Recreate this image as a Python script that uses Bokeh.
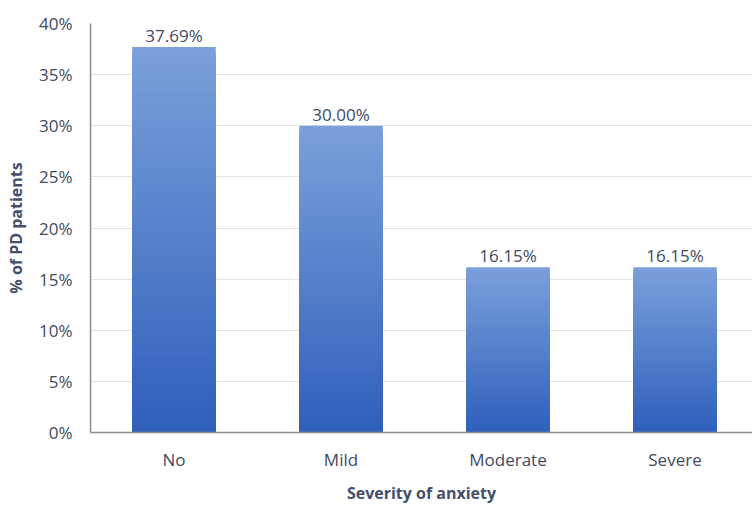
import numpy as np
from bokeh.plotting import figure
from bokeh.models import FixedTicker, ColumnDataSource, LabelSet
from bokeh.core.properties import value
from bokeh.embed import file_html
from bokeh.resources import INLINE

categories = ["No", "Mild", "Moderate", "Severe"]
values = [37.69, 30.00, 16.15, 16.15]
labels = ["37.69%", "30.00%", "16.15%", "16.15%"]
y_ticks = [0, 5, 10, 15, 20, 25, 30, 35, 40]

FONT = "Open Sans"
TXT = "#3f4a63"

p = figure(width=752, height=506, output_backend="svg", toolbar_location=None,
           x_range=(-0.5, 3.464), y_range=(0, 40),
           min_border_left=90, min_border_right=0, min_border_top=23, min_border_bottom=74)
p.outline_line_color = None
p.background_fill_color = "white"

# gradient bars: overlapping stacked bars, tallest (lightest) first
top_c = np.array([0x7b, 0xa0, 0xda])
bot_c = np.array([0x2e, 0x5f, 0xbb])
N = 60
xs, tops, cols = [], [], []
for k in range(N, 0, -1):
    f = (k - 0.5) / N
    c = bot_c + (top_c - bot_c) * f
    col = "#%02x%02x%02x" % tuple(int(round(t)) for t in c)
    for i, v in enumerate(values):
        xs.append(i); tops.append(v * k / N); cols.append(col)
p.vbar(x=xs, bottom=0, top=tops, width=0.5, fill_color=cols, line_color=None)

src = ColumnDataSource(dict(x=list(range(len(categories))), y=values, t=labels))
p.add_layout(LabelSet(x="x", y="y", text="t", source=src, text_align="center",
                      text_baseline="bottom", y_offset=0, text_font=value(FONT),
                      text_font_size="17px", text_color=TXT))

p.xaxis.ticker = FixedTicker(ticks=list(range(len(categories))))
p.xaxis.major_label_overrides = {i: c for i, c in enumerate(categories)}
p.yaxis.ticker = FixedTicker(ticks=y_ticks)
p.yaxis.major_label_overrides = {t: f"{t}%" for t in y_ticks}

for ax in (p.xaxis[0], p.yaxis[0]):
    ax.major_tick_line_color = None
    ax.minor_tick_line_color = None
    ax.axis_line_color = "#8c8c8c"
    ax.axis_line_width = 1.5
    ax.major_label_text_font = FONT
    ax.major_label_text_font_size = "17px"
    ax.major_label_text_color = TXT
    ax.axis_label_text_font = FONT
    ax.axis_label_text_font_size = "16px"
    ax.axis_label_text_font_style = "bold"
    ax.axis_label_text_color = "#44506b"

p.yaxis.major_label_standoff = 12
p.xaxis.major_label_standoff = 9
p.yaxis.axis_label = "% of PD patients"
p.xaxis.axis_label = "Severity of anxiety"
p.yaxis.axis_label_standoff = 9
p.xaxis.axis_label_standoff = 8

p.xgrid.grid_line_color = None
p.ygrid.grid_line_color = "#e3e3e3"
p.ygrid.grid_line_width = 1

open("out.html", "w").write(file_html(p, INLINE))
